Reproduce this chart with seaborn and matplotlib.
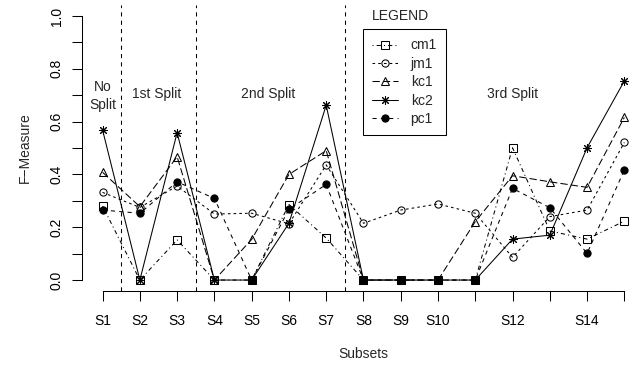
import matplotlib
matplotlib.use("Agg")
import matplotlib.pyplot as plt
import seaborn as sns
import numpy as np

# ---- data ----
subsets = ["S1", "S2", "S3", "S4", "S5", "S6", "S7", "S8", "S9", "S10",
           "S11", "S12", "S13", "S14", "S15"]
tick_labels = ["S1", "S2", "S3", "S4", "S5", "S6", "S7", "S8", "S9", "S10",
               "", "S12", "", "S14", ""]
cm1 = [0.280, 0.000, 0.152, 0.000, 0.000, 0.286, 0.159, 0.000, 0.000, 0.000,
       0.000, 0.501, 0.186, 0.155, 0.223]
jm1 = [0.332, 0.275, 0.356, 0.250, 0.253, 0.213, 0.436, 0.215, 0.265, 0.288,
       0.253, 0.086, 0.240, 0.265, 0.521]
kc1 = [0.408, 0.278, 0.467, 0.000, 0.154, 0.400, 0.490, 0.000, 0.000, 0.000,
       0.221, 0.395, 0.372, 0.351, 0.616]
kc2 = [0.568, 0.000, 0.558, 0.000, 0.000, 0.215, 0.662, 0.000, 0.000, 0.000,
       0.000, 0.155, 0.170, 0.501, 0.754]
pc1 = [0.265, 0.253, 0.372, 0.309, 0.000, 0.268, 0.362, 0.000, 0.000, 0.000,
       0.000, 0.347, 0.274, 0.101, 0.417]
split_lines = [1.5, 3.5, 7.5]
split_names = ["1st Split", "2nd Split", "3rd Split"]
split_pos = [2.45, 5.44, 12.0]

sns.set_style("ticks")
plt.rcParams["font.family"] = ["Liberation Sans", "DejaVu Sans"]
plt.rcParams["font.size"] = 10

fig = plt.figure(figsize=(6.35, 3.66), dpi=100)
ax = fig.add_axes([0.1287, 0.2060, 0.8874, 0.7792])

x = np.arange(1, len(subsets) + 1)
series = [
    ("cm1", cm1, dict(marker="s", markersize=5.2, markerfacecolor="none"), (0, (1, 3, 4, 3))),
    ("jm1", jm1, dict(marker="o", markersize=5.2, markerfacecolor="none"), (0, (2.5, 3))),
    ("kc1", kc1, dict(marker="^", markersize=6.3, markerfacecolor="none"), (0, (7, 3))),
    ("kc2", kc2, dict(marker=(8, 2, 0), markersize=6.2), "-"),
    ("pc1", pc1, dict(marker="o", markersize=5.2, markerfacecolor="black"), (0, (4, 4))),
]
for name, vals, mk, ls in series:
    sns.lineplot(x=x, y=vals, ax=ax, color="black", linewidth=0.75,
                 linestyle=ls, markeredgecolor="black", markeredgewidth=0.75,
                 label=name, **mk)

for xv in split_lines:
    ax.axvline(xv, color="black", linewidth=0.75, linestyle=(0, (4, 4)))

ax.text(1, 0.697, "No\nSplit", ha="center", va="center", linespacing=1.3, fontsize=10)
for name, xp in zip(split_names, split_pos):
    ax.text(xp, 0.703, name, ha="center", va="center", fontsize=10)
ax.text(9, 1.0, "LEGEND", ha="center", va="center", fontsize=10)

leg = ax.legend(loc="upper left", bbox_to_anchor=(0.4987, 0.916),
                borderaxespad=0, frameon=True, fancybox=False, shadow=False,
                framealpha=1, edgecolor="black", fontsize=10,
                handlelength=1.9, handletextpad=0.9, labelspacing=0.32,
                borderpad=0.65)
leg.get_frame().set_linewidth(0.75)

ax.set_xlim(1 - 0.56, 15 + 0.56)
ax.set_ylim(-0.04, 1.04)
ax.set_xticks(x)
ax.set_xticklabels(tick_labels)
yt = np.round(np.arange(0, 1.01, 0.1), 1)
ax.set_yticks(yt)
ax.set_yticklabels([f"{v:.1f}" if i % 2 == 0 else "" for i, v in enumerate(yt)],
                   rotation=90, va="center")
ax.tick_params(axis="both", direction="out", length=7, width=0.75,
               color="black", labelsize=10, labelcolor="black")
ax.tick_params(axis="x", pad=9.5)
ax.tick_params(axis="y", pad=6)

for s in ["top", "right"]:
    ax.spines[s].set_visible(False)
ax.spines["left"].set_bounds(0, 1)
ax.spines["bottom"].set_bounds(1, 15)
for s in ["left", "bottom"]:
    ax.spines[s].set_linewidth(0.75)
    ax.spines[s].set_color("black")

ax.set_xlabel("Subsets", fontsize=10, labelpad=14)
ax.set_ylabel("F\u2212Measure", fontsize=10, labelpad=13)
ax.set_facecolor("white")
fig.patch.set_facecolor("white")

fig.savefig("out.png", dpi=100)
